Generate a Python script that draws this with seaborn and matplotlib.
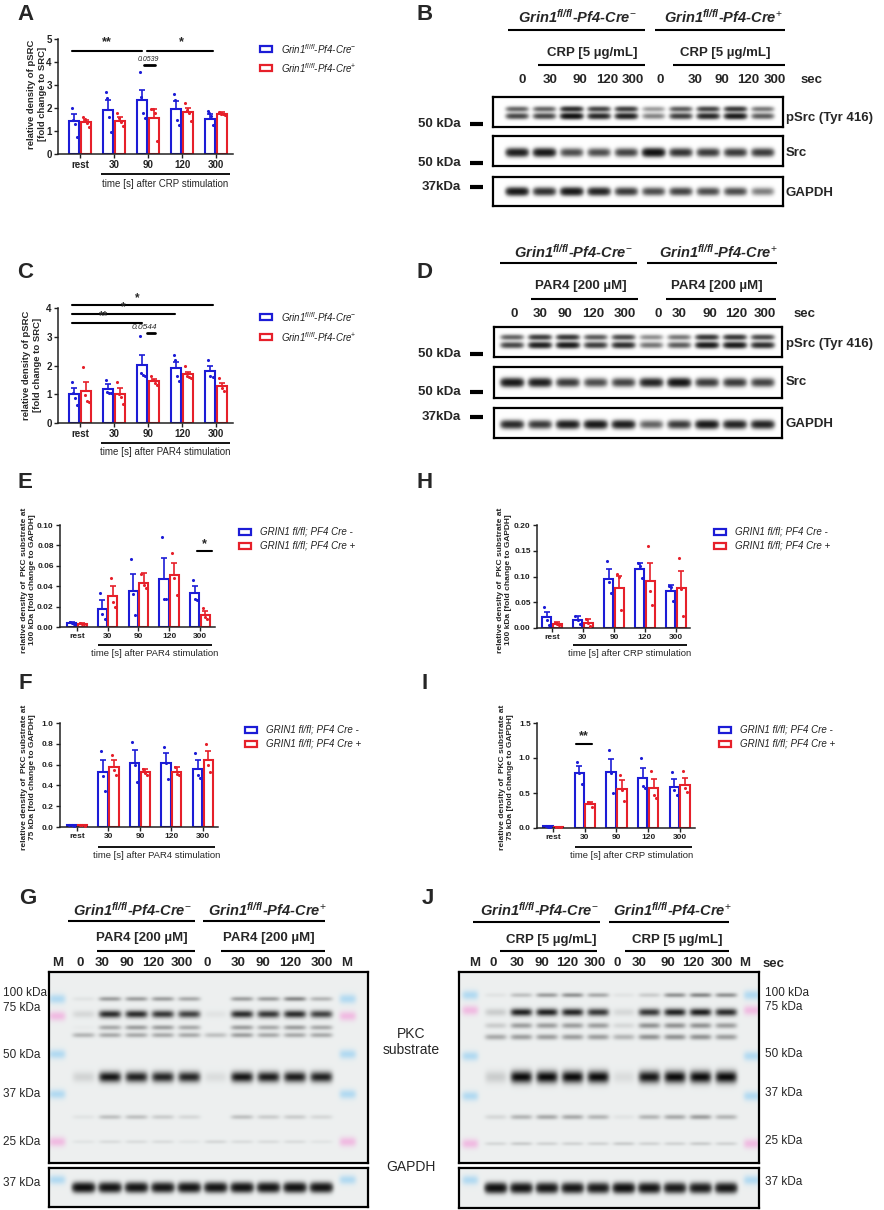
import numpy as np
import pandas as pd
import matplotlib
matplotlib.use("Agg")
import matplotlib.pyplot as plt
import seaborn as sns
from matplotlib.lines import Line2D
from matplotlib.patches import Rectangle
from matplotlib.ticker import FormatStrFormatter

# ---------------- data ----------------
times = ["rest", "30", "90", "120", "300"]

A_mean_ctrl = [1.42, 1.93, 2.36, 1.96, 1.54]
A_sem_ctrl = [0.32, 0.43, 0.44, 0.33, 0.20]
A_pts_ctrl = [[2.0, 1.5, 1.3, 0.72], [2.71, 2.43, 1.6, 0.94], [3.55, 2.5, 1.8, 1.57],
              [2.61, 2.36, 1.46, 1.25], [1.88, 1.78, 1.64, 1.25]]
A_mean_ko = [1.38, 1.42, 1.57, 1.81, 1.74]
A_sem_ko = [0.11, 0.18, 0.39, 0.19, 0.09]
A_pts_ko = [[1.6, 1.52, 1.35, 1.16], [1.78, 1.56, 1.4, 1.2], [1.97, 1.95, 1.8, 0.55],
            [2.22, 1.93, 1.78, 1.42], [1.83, 1.75, 1.72, 1.68]]

C_mean_ctrl = [1.0, 1.17, 2.01, 1.91, 1.81]
C_sem_ctrl = [0.21, 0.18, 0.35, 0.21, 0.19]
C_pts_ctrl = [[1.41, 1.05, 0.86, 0.62], [1.49, 1.08, 1.06, 1.05], [3.01, 1.73, 1.67, 1.62],
              [2.36, 2.2, 1.62, 1.46], [2.2, 1.62, 1.6]]
C_mean_ko = [1.1, 1.0, 1.45, 1.7, 1.29]
C_sem_ko = [0.33, 0.21, 0.08, 0.09, 0.11]
C_pts_ko = [[1.94, 0.98, 0.75, 0.72], [1.43, 1.0, 0.92, 0.65], [1.62, 1.5, 1.4, 1.31],
            [2.0, 1.65, 1.6, 1.58], [1.56, 1.21, 1.1]]

E_mean_ctrl = [0.004, 0.018, 0.0357, 0.047, 0.033]
E_sem_ctrl = [0.001, 0.008, 0.016, 0.021, 0.007]
E_pts_ctrl = [[0.005, 0.004, 0.003], [0.033, 0.013, 0.008], [0.067, 0.032, 0.012],
              [0.088, 0.027, 0.027], [0.046, 0.0275, 0.026]]
E_mean_ko = [0.003, 0.0305, 0.0436, 0.051, 0.012]
E_sem_ko = [0.0005, 0.0095, 0.0092, 0.012, 0.0034]
E_pts_ko = [[0.0035, 0.003, 0.0025], [0.0485, 0.025, 0.02], [0.052, 0.041, 0.038],
            [0.073, 0.048, 0.031], [0.019, 0.010, 0.008]]

F_mean_ctrl = [0.015, 0.526, 0.62, 0.616, 0.56]
F_sem_ctrl = [0.004, 0.114, 0.12, 0.094, 0.08]
F_pts_ctrl = [[0.02, 0.015, 0.01], [0.735, 0.49, 0.35], [0.82, 0.6, 0.43],
              [0.77, 0.62, 0.46], [0.71, 0.5, 0.47]]
F_mean_ko = [0.015, 0.58, 0.526, 0.53, 0.645]
F_sem_ko = [0.003, 0.06, 0.034, 0.05, 0.09]
F_pts_ko = [[0.02, 0.015, 0.01], [0.69, 0.55, 0.5], [0.56, 0.52, 0.5],
            [0.58, 0.51, 0.5], [0.8, 0.6, 0.53]]

H_mean_ctrl = [0.0208, 0.0156, 0.0955, 0.115, 0.0714]
H_sem_ctrl = [0.0102, 0.0084, 0.020, 0.012, 0.0126]
H_pts_ctrl = [[0.0416, 0.015, 0.006], [0.024, 0.016, 0.008], [0.131, 0.09, 0.067],
              [0.126, 0.12, 0.098], [0.081, 0.08, 0.053]]
H_mean_ko = [0.0078, 0.0097, 0.078, 0.0916, 0.078]
H_sem_ko = [0.004, 0.0078, 0.023, 0.035, 0.033]
H_pts_ko = [[0.010, 0.008, 0.006], [0.0175, 0.010, 0.004], [0.105, 0.10, 0.035],
            [0.159, 0.071, 0.045], [0.136, 0.075, 0.023]]

I_mean_ctrl = [0.025, 0.79, 0.80, 0.72, 0.59]
I_sem_ctrl = [0.008, 0.096, 0.18, 0.14, 0.105]
I_pts_ctrl = [[0.035, 0.02, 0.02], [0.943, 0.79, 0.633], [1.12, 0.78, 0.5],
              [1.0, 0.595, 0.57], [0.795, 0.54, 0.467]]
I_mean_ko = [0.015, 0.338, 0.562, 0.571, 0.62]
I_sem_ko = [0.004, 0.04, 0.118, 0.124, 0.094]
I_pts_ko = [[0.02, 0.015, 0.01], [0.37, 0.36, 0.30], [0.76, 0.54, 0.386],
            [0.81, 0.47, 0.43], [0.81, 0.576, 0.514]]

# western blot band darkness (0..1) per lane
B_lanes = ["0", "30", "90", "120", "300", "0", "30", "90", "120", "300"]
B_psrc = [0.55, 0.55, 0.95, 0.75, 0.8, 0.3, 0.6, 0.75, 0.85, 0.45]
B_src = [0.8, 0.85, 0.5, 0.5, 0.55, 0.95, 0.65, 0.6, 0.6, 0.6]
B_gapdh = [0.85, 0.65, 0.85, 0.75, 0.6, 0.5, 0.55, 0.5, 0.5, 0.3]
D_psrc = [0.55, 0.8, 0.85, 0.6, 0.7, 0.35, 0.45, 0.85, 0.85, 0.7]
D_src = [0.85, 0.8, 0.6, 0.5, 0.55, 0.75, 0.9, 0.6, 0.6, 0.55]
D_gapdh = [0.7, 0.6, 0.8, 0.85, 0.8, 0.4, 0.6, 0.85, 0.75, 0.75]

G_lanes = ["M", "0", "30", "90", "120", "300", "0", "30", "90", "120", "300", "M"]
G_100 = [0, 0.05, 0.35, 0.35, 0.35, 0.3, 0, 0.35, 0.35, 0.45, 0.25, 0]
G_75 = [0, 0.1, 0.85, 0.85, 0.8, 0.75, 0.05, 0.85, 0.8, 0.85, 0.75, 0]
G_62 = [0, 0.02, 0.3, 0.35, 0.35, 0.3, 0, 0.35, 0.3, 0.35, 0.3, 0]
G_58 = [0, 0.25, 0.3, 0.3, 0.3, 0.3, 0.2, 0.35, 0.3, 0.3, 0.3, 0]
G_40 = [0, 0.12, 0.95, 0.9, 0.88, 0.88, 0.08, 0.95, 0.92, 0.92, 0.9, 0]
G_30 = [0, 0.05, 0.2, 0.2, 0.15, 0.1, 0, 0.2, 0.15, 0.15, 0.1, 0]
G_25 = [0, 0.05, 0.08, 0.08, 0.08, 0.05, 0.1, 0.08, 0.08, 0.08, 0.05, 0]
G_gapdh = [0, 0.95, 0.9, 0.9, 0.88, 0.9, 0.9, 0.92, 0.9, 0.92, 0.9, 0]

J_lanes = ["M", "0", "30", "90", "120", "300", "0", "30", "90", "120", "300", "M"]
J_100 = [0, 0.05, 0.2, 0.35, 0.4, 0.3, 0.05, 0.15, 0.4, 0.45, 0.4, 0]
J_75 = [0, 0.15, 0.9, 0.9, 0.88, 0.8, 0.1, 0.8, 0.9, 0.92, 0.85, 0]
J_62 = [0, 0.15, 0.35, 0.35, 0.35, 0.35, 0.1, 0.4, 0.4, 0.4, 0.35, 0]
J_58 = [0, 0.3, 0.35, 0.35, 0.35, 0.35, 0.25, 0.4, 0.4, 0.4, 0.35, 0]
J_40 = [0, 0.15, 1.0, 1.0, 1.0, 1.0, 0.08, 0.95, 1.0, 1.0, 1.0, 0]
J_33 = [0, 0.1, 0.25, 0.3, 0.3, 0.25, 0.05, 0.25, 0.3, 0.35, 0.25, 0]
J_27 = [0, 0.1, 0.15, 0.12, 0.12, 0.12, 0.15, 0.12, 0.12, 0.15, 0.12, 0]
J_gapdh = [0, 0.95, 0.9, 0.88, 0.88, 0.85, 0.95, 0.9, 0.85, 0.85, 0.88, 0]

# ---------------- style ----------------
BLUE = "#1c1cd6"
RED = "#e6202a"
sns.set_theme(style="ticks")
plt.rcParams["font.family"] = ["Liberation Sans", "DejaVu Sans"]
plt.rcParams["mathtext.fontset"] = "custom"
plt.rcParams["mathtext.rm"] = "Liberation Sans"
plt.rcParams["mathtext.it"] = "Liberation Sans:italic"
plt.rcParams["mathtext.bf"] = "Liberation Sans:italic:bold"

W, H = 884, 1210
fig = plt.figure(figsize=(W / 100, H / 100), dpi=100)
fig.patch.set_facecolor("white")


def fx(x):
    return x / W


def fy(y):
    return 1 - y / H


def add_ax(x0, y0, x1, y1):
    return fig.add_axes([fx(x0), fy(y1), (x1 - x0) / W, (y1 - y0) / H])


def T(x, y, s, **kw):
    kw.setdefault("ha", "center")
    kw.setdefault("va", "center")
    fig.text(fx(x), fy(y), s, **kw)


def L(x0, x1, y, lw=1.5):
    fig.add_artist(Line2D([fx(x0), fx(x1)], [fy(y), fy(y)], color="black", lw=lw,
                          solid_capstyle="butt"))


OFFS = {3: np.array([-0.07, 0.0, 0.07]), 4: np.array([-0.08, -0.03, 0.03, 0.08])}


def bar_panel(box, xlim, ylim, yticks, fmt, mc, sc, pc, mk, sk, pk, tick_fs):
    ax = add_ax(*box)
    df = pd.DataFrame({"time": times + times,
                       "value": list(mc) + list(mk),
                       "genotype": ["ctrl"] * 5 + ["ko"] * 5})
    sns.barplot(data=df, x="time", y="value", hue="genotype", order=times,
                hue_order=["ctrl", "ko"], palette={"ctrl": BLUE, "ko": RED},
                fill=False, width=0.68, gap=0.12, linewidth=1.5, errorbar=None,
                legend=False, ax=ax)
    bars = sorted(ax.patches, key=lambda p: p.get_x())
    xs = np.array([p.get_x() + p.get_width() / 2 for p in bars])
    for xser, m, s, pts, col in [(xs[0::2], mc, sc, pc, BLUE), (xs[1::2], mk, sk, pk, RED)]:
        ax.errorbar(xser, m, yerr=[np.zeros(5), s], fmt="none", ecolor=col,
                    elinewidth=1.2, capsize=2.2, capthick=1.2, zorder=3)
        for x, p in zip(xser, pts):
            ax.scatter(x + OFFS[len(p)], p, s=5, color=col, linewidths=0, zorder=4)
    ax.set_xlim(*xlim)
    ax.set_ylim(*ylim)
    ax.set_yticks(yticks)
    ax.yaxis.set_major_formatter(FormatStrFormatter(fmt))
    ax.set_xlabel("")
    ax.set_ylabel("")
    sns.despine(ax=ax)
    for s in ["left", "bottom"]:
        ax.spines[s].set_linewidth(1.1)
        ax.spines[s].set_color("#222222")
    ax.tick_params(labelsize=tick_fs, length=3, width=1.0, pad=1.5, colors="#222222")
    for t in ax.get_xticklabels() + ax.get_yticklabels():
        t.set_fontweight("bold")
    return ax


def legend(x, y1, y2, labels, fs):
    for yy, col, lab in zip([y1, y2], [BLUE, RED], labels):
        fig.add_artist(Rectangle((fx(x), fy(yy + 3)), 12 / W, 6 / H, fill=False,
                                 edgecolor=col, lw=1.6))
        T(x + 21, yy, lab, ha="left", fontsize=fs, style="italic", color="#222222")


def blot(box, first_px, last_px, n, rows_y, rows_h, rows_int, bg=(1, 1, 1),
         markers=(), lane_w=0.4, boost=None):
    x0, y0, x1, y1 = box
    sp = (last_px - first_px) / (n - 1)
    xlim = (-(first_px - x0) / sp, (n - 1) + (x1 - last_px) / sp)
    ax = add_ax(*box)
    nx, ny = int((x1 - x0) * 2), int((y1 - y0) * 2)
    X, Y = np.meshgrid(np.linspace(xlim[0], xlim[1], nx), np.linspace(0, 1, ny))
    dark = np.zeros_like(X)
    for yc, h, vals in zip(rows_y, rows_h, rows_int):
        for xc, v in enumerate(vals):
            if v > 0:
                dark += v * np.exp(-np.abs((X - xc) / lane_w) ** 5 - ((Y - yc) / h) ** 2)
    if boost:
        dark = (1 - np.exp(-boost * dark)) / (1 - np.exp(-boost))
    dark = np.clip(dark, 0, 1)
    img = np.ones((ny, nx, 3)) * np.array(bg)
    img = img * (1 - 0.95 * dark[..., None])
    for li, yc, h, col in markers:
        a = 0.6 * np.exp(-np.abs((X - li) / 0.32) ** 4 - ((Y - yc) / h) ** 2)
        img = img * (1 - a[..., None]) + np.array(col) * a[..., None]
    ax.imshow(np.clip(img, 0, 1), extent=[xlim[0], xlim[1], 1, 0], aspect="auto",
              interpolation="bilinear")
    ax.set_xlim(*xlim)
    ax.set_ylim(1, 0)
    ax.set_xticks([])
    ax.set_yticks([])
    for s in ax.spines.values():
        s.set_visible(True)
        s.set_linewidth(1.6)
        s.set_color("black")
    return ax


LEG_GRIN = [r"Grin1$^{\mathit{fl/fl}}$-Pf4-Cre$^{-}$", r"Grin1$^{\mathit{fl/fl}}$-Pf4-Cre$^{+}$"]
LEG_CAPS = ["GRIN1 fl/fl; PF4 Cre -", "GRIN1 fl/fl; PF4 Cre +"]
TITLE_M = r"Grin1$^{\mathbf{fl/fl}}$-Pf4-Cre$^{-}$"
TITLE_P = r"Grin1$^{\mathbf{fl/fl}}$-Pf4-Cre$^{+}$"
YL_PKC100 = "relative density of  PKC substrate at\n100 kDa [fold change to GAPDH]"
YL_PKC75 = "relative density of  PKC substrate at\n75 kDa [fold change to GAPDH]"

# ---------------- panel A ----------------
axA = bar_panel((58, 39, 233, 154), (-0.65, 4.5), (0, 5), [0, 1, 2, 3, 4, 5], "%d",
                A_mean_ctrl, A_sem_ctrl, A_pts_ctrl, A_mean_ko, A_sem_ko, A_pts_ko, 7)
for xa, xb, lab, xs in [(-0.24, 1.82, "**", 0.8), (1.97, 3.91, "*", 2.97)]:
    axA.plot([xa, xb], [4.49, 4.49], color="black", lw=1.5, clip_on=False)
    axA.text(xs, 4.58, lab, ha="center", va="bottom", fontsize=9, fontweight="bold")
axA.plot([1.88, 2.2], [3.86, 3.86], color="black", lw=2, clip_on=False)
axA.text(2.02, 3.95, "0.0539", ha="center", va="bottom", fontsize=5, style="italic")
T(37, 94, "relative density of pSRC\n[fold change to SRC]", rotation=90, fontsize=6.8,
  fontweight="bold")
L(101, 230, 174, 1.3)
T(165, 184, "time [s] after CRP stimulation", fontsize=7)
legend(260, 49, 68, LEG_GRIN, 7)

# ---------------- panel C ----------------
axC = bar_panel((58, 308, 233, 423), (-0.65, 4.5), (0, 4), [0, 1, 2, 3, 4], "%d",
                C_mean_ctrl, C_sem_ctrl, C_pts_ctrl, C_mean_ko, C_sem_ko, C_pts_ko, 7)
for yy, xb, lab, xs in [(4.12, 3.91, "*", 1.68), (3.8, 2.8, "*", 1.27), (3.48, 1.82, "**", 0.68)]:
    axC.plot([-0.24, xb], [yy, yy], color="black", lw=1.5, clip_on=False)
    axC.text(xs, yy + 0.03, lab, ha="center", va="bottom", fontsize=8.5, fontweight="bold")
axC.plot([1.97, 2.2], [3.12, 3.12], color="black", lw=2, clip_on=False)
axC.text(1.88, 3.2, "0.0544", ha="center", va="bottom", fontsize=6, style="italic")
T(32, 365, "relative density of pSRC\n[fold change to SRC]", rotation=90, fontsize=6.8,
  fontweight="bold")
L(101, 230, 443, 1.3)
T(165, 452, "time [s] after PAR4 stimulation", fontsize=7)
legend(260, 317, 337, LEG_GRIN, 7)

# ---------------- panel E ----------------
axE = bar_panel((60, 525, 215, 627), (-0.55, 4.49), (0, 0.1),
                [0, 0.02, 0.04, 0.06, 0.08, 0.10], "%.2f",
                E_mean_ctrl, E_sem_ctrl, E_pts_ctrl, E_mean_ko, E_sem_ko, E_pts_ko, 6)
axE.plot([3.9, 4.39], [0.0744, 0.0744], color="black", lw=1.5, clip_on=False)
axE.text(4.15, 0.0755, "*", ha="center", va="bottom", fontsize=9, fontweight="bold")
T(29, 580, YL_PKC100, rotation=90, fontsize=6, fontweight="bold")
L(98, 212, 645, 1.3)
T(155, 654, "time [s] after PAR4 stimulation", fontsize=6.8)
legend(239, 532, 546, LEG_CAPS, 7)

# ---------------- panel F ----------------
axF = bar_panel((60, 723, 218, 827), (-0.54, 4.48), (0, 1.0),
                [0, 0.2, 0.4, 0.6, 0.8, 1.0], "%.1f",
                F_mean_ctrl, F_sem_ctrl, F_pts_ctrl, F_mean_ko, F_sem_ko, F_pts_ko, 6)
T(29, 777, YL_PKC75, rotation=90, fontsize=6, fontweight="bold")
L(98, 215, 847, 1.3)
T(157, 855, "time [s] after PAR4 stimulation", fontsize=6.8)
legend(245, 730, 744, LEG_CAPS, 7)

# ---------------- panel H ----------------
axH = bar_panel((537, 525, 690, 628), (-0.48, 4.45), (0, 0.2),
                [0, 0.05, 0.10, 0.15, 0.20], "%.2f",
                H_mean_ctrl, H_sem_ctrl, H_pts_ctrl, H_mean_ko, H_sem_ko, H_pts_ko, 6)
T(505, 580, YL_PKC100, rotation=90, fontsize=6, fontweight="bold")
L(573, 687, 645, 1.3)
T(630, 654, "time [s] after CRP stimulation", fontsize=6.8)
legend(714, 532, 546, LEG_CAPS, 7)

# ---------------- panel I ----------------
axI = bar_panel((537, 723, 695, 828), (-0.51, 4.48), (0, 1.5),
                [0, 0.5, 1.0, 1.5], "%.1f",
                I_mean_ctrl, I_sem_ctrl, I_pts_ctrl, I_mean_ko, I_sem_ko, I_pts_ko, 6)
axI.plot([0.73, 1.24], [1.2, 1.2], color="black", lw=1.5, clip_on=False)
axI.text(0.98, 1.22, "**", ha="center", va="bottom", fontsize=9, fontweight="bold")
T(507, 777, YL_PKC75, rotation=90, fontsize=6, fontweight="bold")
L(575, 692, 847, 1.3)
T(632, 855, "time [s] after CRP stimulation", fontsize=6.8)
legend(719, 730, 744, LEG_CAPS, 7)

# ---------------- panel B ----------------
BOLD = dict(fontsize=9.5, fontweight="bold")
T(577, 17, TITLE_M, fontsize=10.5, fontweight="bold", style="italic")
T(723, 17, TITLE_P, fontsize=10.5, fontweight="bold", style="italic")
L(508, 645, 30)
L(655, 785, 30)
T(592, 53, "CRP [5 µg/mL]", **BOLD)
T(725, 53, "CRP [5 µg/mL]", **BOLD)
L(538, 645, 65)
L(673, 785, 65)
for xx, lab in zip([522, 550, 580, 607, 633, 660, 695, 722, 748, 775], B_lanes):
    T(xx, 80, lab, **BOLD)
T(812, 80, "sec", **BOLD)
blot((493, 97, 783, 127), 517, 763, 10, [0.4, 0.64], [0.085, 0.095],
     [np.array(B_psrc) * 0.75, B_psrc], boost=1.8)
blot((493, 136, 783, 166), 517, 763, 10, [0.55], [0.13], [B_src], boost=2.0)
blot((493, 177, 783, 206), 517, 763, 10, [0.5], [0.13], [B_gapdh], boost=2.0)
for yy, lab in [(124, "50 kDa"), (163, "50 kDa"), (187, "37kDa")]:
    T(461, yy, lab, ha="right", **BOLD)
    L(470, 483, yy, 3)
T(786, 118, "pSrc (Tyr 416)", ha="left", **BOLD)
T(786, 153, "Src", ha="left", **BOLD)
T(786, 193, "GAPDH", ha="left", **BOLD)

# ---------------- panel D ----------------
T(573, 252, TITLE_M, fontsize=10.5, fontweight="bold", style="italic")
T(718, 252, TITLE_P, fontsize=10.5, fontweight="bold", style="italic")
L(500, 637, 263)
L(647, 777, 263)
T(581, 286, "PAR4 [200 µM]", **BOLD)
T(717, 286, "PAR4 [200 µM]", **BOLD)
L(531, 638, 299)
L(666, 776, 299)
for xx, lab in zip([514, 540, 565, 593, 625, 658, 679, 710, 736, 765], B_lanes):
    T(xx, 314, lab, **BOLD)
T(805, 314, "sec", **BOLD)
blot((494, 327, 782, 357), 512, 763, 10, [0.36, 0.62], [0.085, 0.095],
     [np.array(D_psrc) * 0.75, D_psrc], boost=1.8)
blot((494, 367, 782, 398), 512, 763, 10, [0.5], [0.13], [D_src], boost=2.0)
blot((494, 408, 782, 438), 512, 763, 10, [0.55], [0.13], [D_gapdh], boost=2.0)
for yy, lab in [(354, "50 kDa"), (392, "50 kDa"), (417, "37kDa")]:
    T(461, yy, lab, ha="right", **BOLD)
    L(470, 483, yy, 3)
T(786, 344, "pSrc (Tyr 416)", ha="left", **BOLD)
T(786, 382, "Src", ha="left", **BOLD)
T(786, 424, "GAPDH", ha="left", **BOLD)

# ---------------- panel G ----------------
BG = (0.93, 0.94, 0.94)
MBLUE = (0.55, 0.8, 0.95)
MPINK = (0.95, 0.6, 0.85)
T(132, 910, TITLE_M, fontsize=10.5, fontweight="bold", style="italic")
T(267, 910, TITLE_P, fontsize=10.5, fontweight="bold", style="italic")
L(68, 195, 921)
L(203, 325, 921)
T(142, 938, "PAR4 [200 µM]", **BOLD)
T(269, 938, "PAR4 [200 µM]", **BOLD)
L(97, 195, 951)
L(221, 325, 951)
for xx, lab in zip([58, 80, 102, 127, 153, 182, 207, 238, 263, 290, 322, 347], G_lanes):
    T(xx, 963, lab, **BOLD)
rowsG = [0.14, 0.22, 0.29, 0.33, 0.55, 0.76, 0.89]
hG = [0.012, 0.02, 0.013, 0.013, 0.028, 0.012, 0.01]
mk_rows = [(0.14, MBLUE), (0.23, MPINK), (0.43, MBLUE), (0.64, MBLUE), (0.89, MPINK)]
markG = [(li, yy, 0.025, c) for li in (0, 11) for yy, c in mk_rows]
blot((49, 972, 368, 1163), 57, 348, 12, rowsG, hG,
     [G_100, G_75, G_62, G_58, G_40, G_30, G_25], bg=BG, markers=markG, lane_w=0.42)
blot((49, 1168, 368, 1207), 57, 348, 12, [0.5], [0.12], [G_gapdh], bg=BG,
     markers=[(0, 0.3, 0.12, MBLUE), (11, 0.3, 0.12, MBLUE)], lane_w=0.42, boost=1.5)
for yy, lab in [(993, "100 kDa"), (1008, "75 kDa"), (1055, "50 kDa"), (1094, "37 kDa"),
                (1142, "25 kDa"), (1183, "37 kDa")]:
    T(3, yy, lab, ha="left", fontsize=8.5)
T(411, 1042, "PKC\nsubstrate", fontsize=10, linespacing=1.2)
T(411, 1167, "GAPDH", fontsize=10)

# ---------------- panel J ----------------
T(539, 910, TITLE_M, fontsize=10.5, fontweight="bold", style="italic")
T(672, 910, TITLE_P, fontsize=10.5, fontweight="bold", style="italic")
L(473, 600, 922)
L(609, 729, 922)
T(551, 940, "CRP [5 µg/mL]", **BOLD)
T(677, 940, "CRP [5 µg/mL]", **BOLD)
L(500, 597, 951)
L(625, 729, 951)
for xx, lab in zip([475, 493, 517, 542, 567, 595, 617, 639, 668, 693, 722, 745], J_lanes):
    T(xx, 963, lab, **BOLD)
T(774, 964, "sec", **BOLD)
rowsJ = [0.12, 0.21, 0.28, 0.34, 0.55, 0.76, 0.9]
hJ = [0.012, 0.02, 0.015, 0.015, 0.032, 0.013, 0.01]
markJ = [(li, yy, 0.025, c) for li in (0, 11) for yy, c in
         [(0.12, MBLUE), (0.2, MPINK), (0.44, MBLUE), (0.65, MBLUE), (0.9, MPINK)]]
blot((459, 972, 759, 1163), 470, 752, 12, rowsJ, hJ,
     [J_100, J_75, J_62, J_58, J_40, J_33, J_27], bg=BG, markers=markJ, lane_w=0.42)
blot((459, 1168, 759, 1208), 470, 752, 12, [0.5], [0.12], [J_gapdh], bg=BG,
     markers=[(0, 0.3, 0.12, MBLUE), (11, 0.3, 0.12, MBLUE)], lane_w=0.42, boost=1.5)
for yy, lab in [(993, "100 kDa"), (1007, "75 kDa"), (1054, "50 kDa"), (1093, "37 kDa"),
                (1141, "25 kDa"), (1182, "37 kDa")]:
    T(765, yy, lab, ha="left", fontsize=8.5)

# ---------------- panel letters ----------------
for xx, yy, lab in [(25, 14, "A"), (425, 14, "B"), (25, 272, "C"), (425, 272, "D"),
                    (25, 482, "E"), (425, 482, "H"), (25, 683, "F"), (425, 683, "I"),
                    (28, 898, "G"), (428, 898, "J")]:
    T(xx, yy, lab, fontsize=16, fontweight="bold")

fig.savefig("out.png", dpi=100, facecolor="white")
